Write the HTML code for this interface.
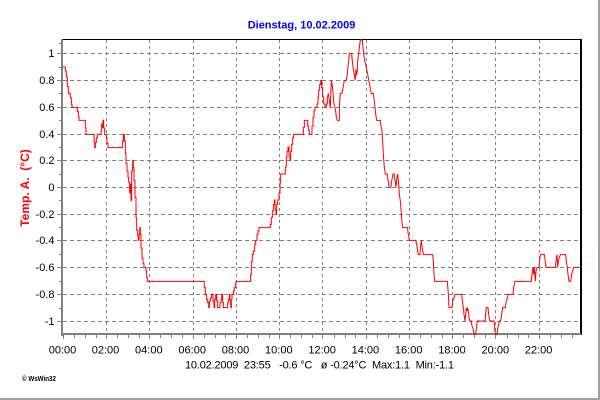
<!DOCTYPE html>
<html><head><meta charset="utf-8"><style>
html,body{margin:0;padding:0;background:#fff;}
svg{display:block;}
text{font-family:"Liberation Sans",Arial,sans-serif;}
</style></head><body>
<svg width="600" height="400" viewBox="0 0 600 400" xmlns="http://www.w3.org/2000/svg">
<rect x="0" y="0" width="600" height="400" fill="#fff"/>
<!-- outer frame right/bottom -->
<rect x="598" y="0" width="2" height="400" fill="#a0a0a0"/>
<rect x="0" y="398" width="600" height="2" fill="#a0a0a0"/>

<!-- title -->
<text x="301.5" y="28.3" font-size="11" font-weight="bold" fill="#0000ff" text-anchor="middle">Dienstag, 10.02.2009</text>

<!-- grid horizontal -->
<g stroke="#808080" stroke-width="1" stroke-dasharray="4,3" fill="none">
<path d="M63 53.5H580 M63 80.5H580 M63 107.5H580 M63 134.5H580 M63 160.5H580 M63 187.5H580 M63 214.5H580 M63 240.5H580 M63 267.5H580 M63 294.5H580 M63 321.5H580"/>
</g>
<g stroke="#808080" stroke-width="1" stroke-dasharray="3,3" fill="none">
<path d="M106.5 40V333 M149.5 40V333 M193.5 40V333 M236.5 40V333 M279.5 40V333 M322.5 40V333 M366.5 40V333 M409.5 40V333 M452.5 40V333 M495.5 40V333 M539.5 40V333"/>
</g>

<!-- frame top/right -->
<rect x="61" y="39" width="521" height="1" fill="#000"/>
<rect x="580" y="39" width="2" height="296" fill="#000"/>

<!-- axes -->
<rect x="61" y="39" width="2" height="297" fill="#808080"/>
<rect x="61" y="333" width="520" height="2" fill="#808080"/>

<!-- y ticks -->
<g stroke="#808080" stroke-width="1" fill="none">
<path d="M57 53.5H61 M57 80.5H61 M57 107.5H61 M57 134.5H61 M57 160.5H61 M57 187.5H61 M57 214.5H61 M57 240.5H61 M57 267.5H61 M57 294.5H61 M57 321.5H61"/>
<path d="M59 43.5H61 M59 67.5H61 M59 93.5H61 M59 120.5H61 M59 147.5H61 M59 174.5H61 M59 200.5H61 M59 227.5H61 M59 254.5H61 M59 281.5H61 M59 308.5H61"/>
<!-- x ticks -->
<path d="M63.5 335v4 M106.5 335v4 M149.5 335v4 M193.5 335v4 M236.5 335v4 M279.5 335v4 M322.5 335v4 M366.5 335v4 M409.5 335v4 M452.5 335v4 M495.5 335v4 M539.5 335v4"/>
<path d="M74.5 335v3 M85.5 335v3 M96.5 335v3 M117.5 335v3 M128.5 335v3 M139.5 335v3 M160.5 335v3 M171.5 335v3 M182.5 335v3 M204.5 335v3 M215.5 335v3 M225.5 335v3 M247.5 335v3 M258.5 335v3 M269.5 335v3 M290.5 335v3 M301.5 335v3 M312.5 335v3 M334.5 335v3 M345.5 335v3 M355.5 335v3 M377.5 335v3 M388.5 335v3 M399.5 335v3 M420.5 335v3 M431.5 335v3 M442.5 335v3 M463.5 335v3 M474.5 335v3 M485.5 335v3 M507.5 335v3 M518.5 335v3 M528.5 335v3 M550.5 335v3 M561.5 335v3 M572.5 335v3"/>
</g>

<!-- y tick labels -->
<g font-size="11" fill="#000" text-anchor="end">
<text x="54.5" y="57.2">1</text>
<text x="54.5" y="84.2">0.8</text>
<text x="54.5" y="111.2">0.6</text>
<text x="54.5" y="138.2">0.4</text>
<text x="54.5" y="164.2">0.2</text>
<text x="54.5" y="191.2">0</text>
<text x="54.5" y="218.2">-0.2</text>
<text x="54.5" y="244.2">-0.4</text>
<text x="54.5" y="271.2">-0.6</text>
<text x="54.5" y="298.2">-0.8</text>
<text x="54.5" y="325.2">-1</text>
</g>

<!-- x tick labels -->
<g font-size="11" fill="#000" text-anchor="middle">
<text x="62.5" y="353.3">00:00</text>
<text x="105.5" y="353.3">02:00</text>
<text x="148.8" y="353.3">04:00</text>
<text x="192.2" y="353.3">06:00</text>
<text x="235.5" y="353.3">08:00</text>
<text x="278.8" y="353.3">10:00</text>
<text x="322.1" y="353.3">12:00</text>
<text x="365.4" y="353.3">14:00</text>
<text x="408.7" y="353.3">16:00</text>
<text x="452" y="353.3">18:00</text>
<text x="495.3" y="353.3">20:00</text>
<text x="538.6" y="353.3">22:00</text>
</g>

<!-- y axis label -->
<text transform="translate(29,188) rotate(-90)" font-size="12" font-weight="bold" fill="#ff0000" text-anchor="middle" xml:space="preserve">Temp. A.  (°C)</text>

<!-- bottom info -->
<text x="185" y="368.7" font-size="11" fill="#000" textLength="269" lengthAdjust="spacing" xml:space="preserve">10.02.2009  23:55   -0.6 °C   ø -0.24°C  Max:1.1  Min:-1.1</text>

<!-- copyright -->
<text x="22" y="381" font-size="7" font-weight="bold" fill="#000" textLength="34" lengthAdjust="spacingAndGlyphs">© WsWin32</text>

<!-- data series -->
<g fill="none" stroke="#ff0000" stroke-width="3" stroke-linejoin="miter">
<g transform="translate(58,36) scale(0.333333)">
<polyline points="15,93 22,93 22,105 25,105 25,123 28,123 28,152 31,152 31,172 37,172 37,185 40,185 40,205 42,205 42,214 58,214 58,226 61,226 61,241 63,241 63,253 82,253 82,276 84,276 84,295 108,295 108,315 110,315 110,335 112,335 112,320 115,320 115,305 118,305 118,295 129,295 129,285 131,285 131,264 133,264 133,274 135,274 135,253 137,253 137,276 140,276 140,295 145,295 145,305 147,305 147,322 150,322 150,335 193,335 193,315 196,315 196,295 199,295 199,315 202,315 202,352 204,352 204,383 207,383 207,405 210,405 210,425 212,425 212,440 215,440 215,470 217,470 217,445 219,445 219,493 221,493 221,405 224,405 224,373 226,373 226,395 228,395 228,433 231,433 231,485 234,485 234,545 236,545 236,583 239,583 239,600 241,600 241,613 243,613 243,595 245,595 245,575 247,575 247,595 249,595 249,636 252,636 252,666 255,666 255,683 258,683 258,694 264,694 264,705 266,705 266,725 269,725 269,736 405,736"/>
</g>
<g transform="translate(190,36) scale(0.333333)">
<polyline points="9,736 43,736 43,755 46,755 46,775 50,775 50,790 53,790 53,800 56,800 56,815 58,815 58,795 62,795 62,785 65,785 65,775 69,775 69,795 72,795 72,815 74,815 74,790 77,790 77,775 80,775 80,795 83,795 83,815 90,815 90,800 93,800 93,790 95,790 95,775 98,775 98,800 100,800 100,815 113,815 113,800 115,800 115,790 118,790 118,775 120,775 120,795 122,795 122,815 124,815 124,790 126,790 126,775 130,775 130,765 133,765 133,755 136,755 136,745 138,745 138,736 182,736 182,716 184,716 184,676 187,676 187,656 190,656 190,646 194,646 194,625 197,625 197,613 201,613 201,595 204,595 204,585 207,585 207,575 241,575 241,565 244,565 244,545 247,545 247,525 250,525 250,505 253,505 253,492 255,492 255,520 258,520 258,535 260,535 260,505 263,505 263,492 267,492 267,473 270,473 270,440 272,440 272,414 286,414 286,393 289,393 289,364 291,364 291,346 294,346 294,333 297,333 297,360 300,360 300,373 302,373 302,346 305,346 305,325 308,325 308,305 311,305 311,295 340,295 340,274 343,274 343,253 353,253 353,270 356,270 356,283 358,283 358,295 366,295 366,270 369,270 369,244 372,244 372,224 375,224 375,214 381,214 381,204 384,204 384,183 386,183 386,162 389,162 389,145 392,145 392,133 395,133 395,155 398,155 398,183 401,183 401,204 405,204 405,214"/>
</g>
<g transform="translate(320,36) scale(0.333333)">
<polyline points="15,214 19,214 19,204 22,204 22,185 25,172 27,185 29,204 31,214 32,183 34,133 36,145 38,160 40,183 42,204 45,214 47,224 49,244 52,253 58,253 58,214 61,172 66,172 68,160 71,145 73,133 79,133 81,120 83,100 86,75 88,52 95,52 96,65 98,85 100,100 103,115 105,133 107,115 108,100 110,118 112,100 113,75 116,52 118,35 121,12 127,12 128,25 130,45 132,60 134,75 137,85 139,95 141,105 144,120 146,133 149,145 151,160 154,172 160,172 161,183 164,204 167,234 170,253 181,253 183,270 186,285 188,315 190,355 193,395 196,414 202,414 204,433 207,454 213,454 214,440 217,425 219,414 222,414 224,425 226,440 228,454 229,440 231,425 233,414 235,433 238,475 241,495 243,520 245,550 248,575 263,575 264,590 266,600 268,613 287,613 290,625 293,645 295,656 300,656 301,635 304,613 306,630 308,645 311,656 338,656 340,676 342,715 344,736 382,736 385,775 387,815 396,815 398,795 402,785 405,775"/>
</g>
<g transform="translate(450,36) scale(0.333333)">
<polyline points="15,775 35,775 37,795 40,815 42,835 45,855 47,835 49,815 51,825 53,815 55,825 57,845 60,855 64,855 66,870 70,880 72,895 77,895 80,870 82,855 105,855 107,835 109,815 114,815 116,835 119,855 132,855 134,875 136,895 141,895 143,880 146,865 148,855 152,855 155,835 158,815 166,815 168,800 171,790 174,775 189,775 191,755 195,736 244,736 246,715 249,694 251,715 253,694 256,736 258,705 261,694 267,694 269,675 271,656 283,656 285,670 288,694 316,694 318,675 321,656 323,694 325,675 328,665 331,656 347,656 349,676 352,694 354,715 357,736 362,736 365,715 368,705 371,694 390,694"/>
</g>
</g>
</svg>
</body></html>
